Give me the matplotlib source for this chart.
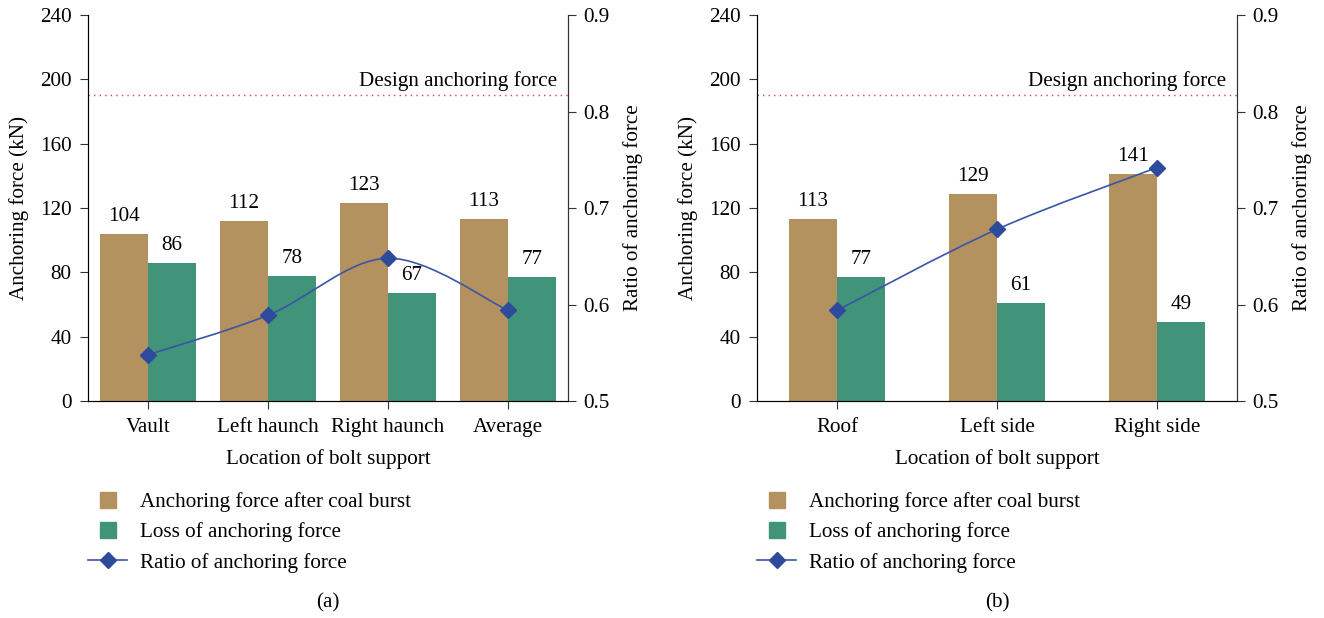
import numpy as np
import matplotlib
matplotlib.use("Agg")
import matplotlib.pyplot as plt
from matplotlib.path import Path
from matplotlib.patches import PathPatch
from matplotlib.lines import Line2D

plt.rcParams['font.family'] = ['Liberation Serif', 'DejaVu Serif']
plt.rcParams['font.size'] = 15.2

# panel (a)
cats_a = ['Vault', 'Left haunch', 'Right haunch', 'Average']
after_a = [104, 112, 123, 113]
loss_a = [86, 78, 67, 77]
ratio_a = [0.548, 0.589, 0.648, 0.594]

# panel (b)
cats_b = ['Roof', 'Left side', 'Right side']
after_b = [113, 129, 141]
loss_b = [77, 61, 49]
ratio_b = [0.594, 0.678, 0.742]

design_force = 190

BROWN = '#B39260'
GREEN = '#41937A'
BLUE = '#3A55A8'
MARK = '#2E4A9A'
AXCOL = '#333333'


def smooth_path(xs, ys):
    ''' Catmull-Rom style bezier path through the points '''
    pts = np.column_stack([xs, ys]).astype(float)
    ext = np.vstack([pts[0], pts, pts[-1]])
    verts = [pts[0]]
    codes = [Path.MOVETO]
    for i in range(len(pts) - 1):
        p0, p1, p2, p3 = ext[i], ext[i + 1], ext[i + 2], ext[i + 3]
        c1 = p1 + (p2 - p0) / 6
        c2 = p2 - (p3 - p1) / 6
        verts += [c1, c2, p2]
        codes += [Path.CURVE4] * 3
    return Path(verts, codes)


def draw_panel(rect, cats, after, loss, ratio, width, tag):
    ax = fig.add_axes(rect)
    x = np.arange(len(cats))
    ax.bar(x - width / 2, after, width, color=BROWN, zorder=2)
    ax.bar(x + width / 2, loss, width, color=GREEN, zorder=2)
    for xi, a, l in zip(x, after, loss):
        ax.text(xi - width / 2, a + 5, str(a), ha='center', va='bottom')
        ax.text(xi + width / 2, l + 5, str(l), ha='center', va='bottom')

    ax.axhline(design_force, color='#E0405A', lw=1, ls=(0, (1, 3)), zorder=1)
    ax.text(0.977, 196, 'Design anchoring force', ha='right', va='baseline',
            transform=ax.get_yaxis_transform())

    ax.set_xlim(-0.5, len(cats) - 0.5)
    ax.set_ylim(0, 240)
    ax.set_yticks(np.arange(0, 241, 40))
    ax.set_xticks(x)
    ax.set_xticklabels(cats)
    ax.set_ylabel('Anchoring force (kN)', labelpad=8)
    ax.set_xlabel('Location of bolt support', labelpad=9)
    ax.spines['top'].set_visible(False)
    for s in ['left', 'bottom', 'right']:
        ax.spines[s].set_color(AXCOL)
    ax.tick_params(direction='out', length=6, color=AXCOL, pad=6)

    ax2 = ax.twinx()
    ax2.set_ylim(0.5, 0.9)
    ax2.set_yticks([0.5, 0.6, 0.7, 0.8, 0.9])
    ax2.spines['top'].set_visible(False)
    ax2.spines['right'].set_color(AXCOL)
    ax2.tick_params(direction='out', length=6, color=AXCOL, pad=5)
    ax2.set_ylabel('Ratio of anchoring force', labelpad=10)
    ax2.add_patch(PathPatch(smooth_path(x, ratio), fill=False, ec=BLUE,
                            lw=1.2, zorder=3))
    ax2.plot(x, ratio, ls='none', marker='D', ms=8, color=MARK, zorder=4)

    handles = [
        Line2D([], [], ls='none', marker='s', ms=11, color=BROWN),
        Line2D([], [], ls='none', marker='s', ms=11, color=GREEN),
        Line2D([], [], color=BLUE, lw=1.2, marker='D', ms=8, mfc=MARK, mec=MARK),
    ]
    labels = ['Anchoring force after coal burst', 'Loss of anchoring force',
              'Ratio of anchoring force']
    fig.legend(handles, labels, loc='upper left',
               bbox_to_anchor=(rect[0], 0.203), frameon=False, borderpad=0,
               borderaxespad=0, handlelength=1.85, handletextpad=0.6,
               labelspacing=0.48)
    fig.text(rect[0] + rect[2] * 0.5, 0.024, tag, ha='center', va='center')
    return ax


fig = plt.figure(figsize=(13.24, 6.18), dpi=100)
draw_panel([0.0665, 0.351, 0.3625, 0.6246], cats_a, after_a, loss_a, ratio_a, 0.4, '(a)')
draw_panel([0.5718, 0.351, 0.3625, 0.6246], cats_b, after_b, loss_b, ratio_b, 0.3, '(b)')

fig.savefig('out.png', dpi=100)
